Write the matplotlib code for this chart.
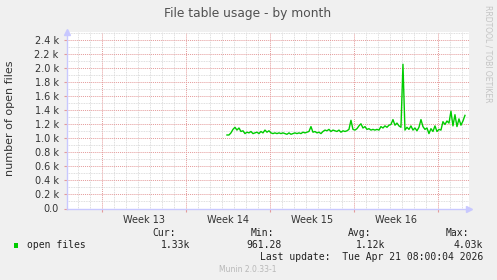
import numpy as np
import matplotlib
matplotlib.use('Agg')
import matplotlib.pyplot as plt
from matplotlib.ticker import MultipleLocator, FuncFormatter

W, H = 497, 280

# open files, 2-hour averages
open_files = [
    1050, 1050, 1080, 1130, 1160, 1120, 1150, 1100, 1110, 1070,
    1090, 1080, 1100, 1070, 1080, 1090, 1070, 1100, 1080, 1120,
    1090, 1110, 1080, 1070, 1080, 1070, 1080, 1070, 1080,
    1070, 1060, 1080, 1060, 1070, 1080, 1070, 1080, 1070, 1090,
    1080, 1090, 1100, 1170, 1090, 1100, 1080, 1090, 1070, 1100,
    1120, 1110, 1130, 1100, 1120, 1110, 1100, 1120, 1090, 1110, 1100,
    1110, 1130, 1260, 1130, 1120, 1140, 1180, 1210, 1150, 1170,
    1130, 1140, 1120, 1130, 1120, 1130, 1120, 1170, 1150, 1180,
    1160, 1190, 1200, 1270, 1190, 1220, 1180, 1160,
    2060, 1120, 1160, 1130, 1180, 1120, 1150, 1110, 1160, 1270,
    1170, 1130, 1150, 1070, 1140, 1100, 1180, 1100, 1130, 1120,
    1240, 1200, 1250, 1220, 1390, 1180, 1340, 1170, 1280, 1190,
    1250, 1330,
]
week_labels = ['Week 13', 'Week 14', 'Week 15', 'Week 16']
week_starts = [0, 7, 14, 21]          # days, first grid week boundary = 0
data_start = 10.44                    # days
step = 1 / 6                          # 2 hours
x_range = (-2.89, 30.61)
y_top = 2521

legend_name = 'open files'
stats = {'Cur:': '1.33k', 'Min:': '961.28', 'Avg:': '1.12k', 'Max:': '4.03k'}
last_update = 'Last update:  Tue Apr 21 08:00:04 2026'

t = data_start + step * np.arange(len(open_files))

bg = '#f0f0f0'
green = '#00cc00'
axis_col = '#c8c8ff'

fig = plt.figure(figsize=(W / 100, H / 100), dpi=100, facecolor=bg)
ax = fig.add_axes([67 / W, 71.5 / H, (469 - 67) / W, (208.5 - 32) / H])
ax.set_facecolor('white')

# grid: minor gray, major pink
ax.yaxis.set_major_locator(MultipleLocator(200))
ax.yaxis.set_minor_locator(MultipleLocator(100))
ax.xaxis.set_major_locator(MultipleLocator(7))
ax.xaxis.set_minor_locator(MultipleLocator(1))
ax.grid(which='minor', color='#d4d4d4', linestyle=(0, (1, 1)), linewidth=0.6)
ax.grid(which='major', color='#e49a9a', linestyle=(0, (1, 1)), linewidth=0.7)
ax.set_axisbelow(True)

ax.yaxis.set_major_formatter(FuncFormatter(lambda v, p: '0.0' if v == 0 else f'{v / 1000:.1f} k'))
ax.xaxis.set_major_formatter(FuncFormatter(lambda v, p: ''))
ax.tick_params(axis='y', which='major', length=2, color='#e49a9a', labelsize=7, labelcolor='#333333', pad=4)
ax.tick_params(axis='y', which='minor', length=0)
ax.tick_params(axis='x', which='major', length=2, color='#e49a9a', pad=2)
ax.tick_params(axis='x', which='minor', length=0)

for s in ['top', 'right']:
    ax.spines[s].set_visible(False)
for s in ['bottom', 'left']:
    ax.spines[s].set_color(axis_col)
    ax.spines[s].set_linewidth(1)

# axis arrows
ax.plot([x_range[1]], [0], marker='>', color=axis_col, markersize=4, clip_on=False)
ax.plot([x_range[0]], [y_top], marker='^', color=axis_col, markersize=4, clip_on=False)
ax.set_xlim(*x_range)
ax.set_ylim(0, y_top)

for lbl, ws in zip(week_labels, week_starts):
    ax.text(ws + 3.5, -0.035, lbl, transform=ax.get_xaxis_transform(),
            ha='center', va='top', fontsize=7, color='#333333')

ax.plot(t, open_files, color=green, linewidth=1)

def px(x, y):
    return x / W, 1 - y / H

fig.text(*px(248, 13), 'File table usage - by month', ha='center', va='center',
         fontsize=8.8, color='#505050')
fig.text(*px(10, 118), 'number of open files', ha='center', va='center',
         rotation=90, fontsize=8, color='#333333')
fig.text(*px(488, 5), 'RRDTOOL / TOBI OETIKER', ha='center', va='top',
         rotation=270, fontsize=5.5, color='#c4c4c4')

mono = 'DejaVu Sans Mono'
fig.patches.append(plt.Rectangle(px(14, 248), 4 / W, 5 / H, transform=fig.transFigure,
                                 facecolor=green, edgecolor='none'))
fig.text(*px(27, 245.5), legend_name, ha='left', va='center', family=mono, fontsize=7, color='#222222')
hdr_x = [176, 274, 371, 469]
val_x = [190, 282, 385, 483]
for (k, v), hx, vx in zip(stats.items(), hdr_x, val_x):
    fig.text(*px(hx, 233.5), k, ha='right', va='center', family=mono, fontsize=7, color='#222222')
    fig.text(*px(vx, 245.5), v, ha='right', va='center', family=mono, fontsize=7, color='#222222')
fig.text(*px(483, 257.5), last_update, ha='right', va='center', family=mono, fontsize=7, color='#222222')
fig.text(*px(248, 269.5), 'Munin 2.0.33-1', ha='center', va='center', fontsize=5.5, color='#b8b8b8')

fig.savefig('out.png', dpi=100, facecolor=bg)
